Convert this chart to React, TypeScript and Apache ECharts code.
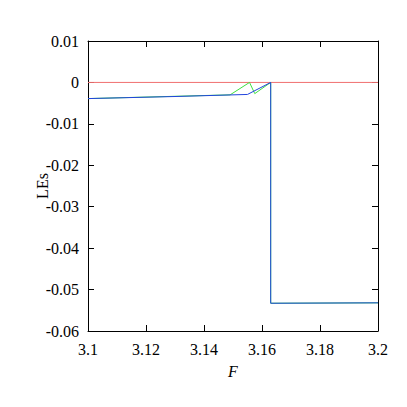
import React, { useEffect, useRef } from "react";
import * as echarts from "echarts";

const xTicks = [3.1, 3.12, 3.14, 3.16, 3.18, 3.2];
const yTicks = [0.01, 0, -0.01, -0.02, -0.03, -0.04, -0.05, -0.06];
const xTickLabels = ["3.1", "3.12", "3.14", "3.16", "3.18", "3.2"];
const yTickLabels = ["0.01", "0", "-0.01", "-0.02", "-0.03", "-0.04", "-0.05", "-0.06"];

const redLE: [number, number][] = [
  [3.1, 0],
  [3.2, 0],
];
const greenLE: [number, number][] = [
  [3.1, -0.0039],
  [3.149, -0.003],
  [3.1557, 0],
  [3.1575, -0.0027],
  [3.163, 0],
  [3.163, -0.0533],
  [3.2, -0.0532],
];
const blueLE: [number, number][] = [
  [3.1, -0.0039],
  [3.13, -0.0034],
  [3.155, -0.0029],
  [3.163, 0],
  [3.163, -0.0533],
  [3.2, -0.0532],
];

const FONT = "Liberation Serif";

function mkAxis(kind: "x" | "y", position: string, min: number, max: number, interval: number, extra: any = {}) {
  return {
    type: "value",
    min,
    max,
    interval,
    position,
    axisLine: { show: true, onZero: false, lineStyle: { color: "#000", width: 1 } },
    axisTick: { show: true, inside: true, length: 6, lineStyle: { color: "#000", width: 1 } },
    splitLine: { show: false },
    axisLabel: { show: false },
    ...extra,
  };
}

export default function App() {
  const ref = useRef<HTMLDivElement>(null);
  useEffect(() => {
    const chart = echarts.init(ref.current!, null, { renderer: "svg" });
    const xMin = xTicks[0];
    const xMax = xTicks[xTicks.length - 1];
    const yMin = yTicks[yTicks.length - 1];
    const yMax = yTicks[0];
    chart.setOption({
      animation: false,
      backgroundColor: "#fff",
      textStyle: { fontFamily: FONT },
      grid: { left: 80, top: 33, width: 290, height: 290, containLabel: false },
      xAxis: [
        mkAxis("x", "bottom", xMin, xMax, 0.02, {
          name: "F",
          nameLocation: "middle",
          nameGap: 32,
          nameTextStyle: { fontFamily: FONT, fontSize: 16, fontStyle: "italic", color: "#000" },
        }),
        mkAxis("x", "top", xMin, xMax, 0.02),
      ],
      yAxis: [
        mkAxis("y", "left", yMin, yMax, 0.01, {
          name: "LEs",
          nameLocation: "middle",
          nameGap: 38,
          nameRotate: 90,
          nameTextStyle: { fontFamily: FONT, fontSize: 16, color: "#000" },
        }),
        mkAxis("y", "right", yMin, yMax, 0.01),
      ],
      series: [
        {
          type: "line",
          data: redLE,
          symbol: "none",
          lineStyle: { color: "#f07070", width: 1 },
          z: 2,
        },
        {
          type: "line",
          data: greenLE,
          symbol: "none",
          lineStyle: { color: "#40e040", width: 1 },
          z: 3,
        },
        {
          type: "line",
          data: blueLE,
          symbol: "none",
          lineStyle: { color: "#2244dd", width: 1 },
          z: 4,
        },
      ],
    });

    const bottomY = chart.convertToPixel({ yAxisIndex: 0 }, yMin) as number;
    const leftX = chart.convertToPixel({ xAxisIndex: 0 }, xMin) as number;
    const texts: any[] = [];
    xTicks.forEach((v, i) => {
      const px = chart.convertToPixel({ xAxisIndex: 0 }, v) as number;
      texts.push({
        type: "text",
        x: px,
        y: bottomY + 10,
        silent: true,
        style: {
          text: xTickLabels[i],
          fontFamily: FONT,
          fontSize: 16,
          fill: "#000",
          align: "center",
          verticalAlign: "top",
        },
      });
    });
    yTicks.forEach((v, i) => {
      const py = chart.convertToPixel({ yAxisIndex: 0 }, v) as number;
      texts.push({
        type: "text",
        x: leftX - 9,
        y: py,
        silent: true,
        style: {
          text: yTickLabels[i],
          fontFamily: FONT,
          fontSize: 16,
          fill: "#000",
          align: "right",
          verticalAlign: "middle",
        },
      });
    });
    chart.setOption({ graphic: texts });
    return () => chart.dispose();
  }, []);
  return <div ref={ref} style={{ width: 391, height: 391 }} />;
}
